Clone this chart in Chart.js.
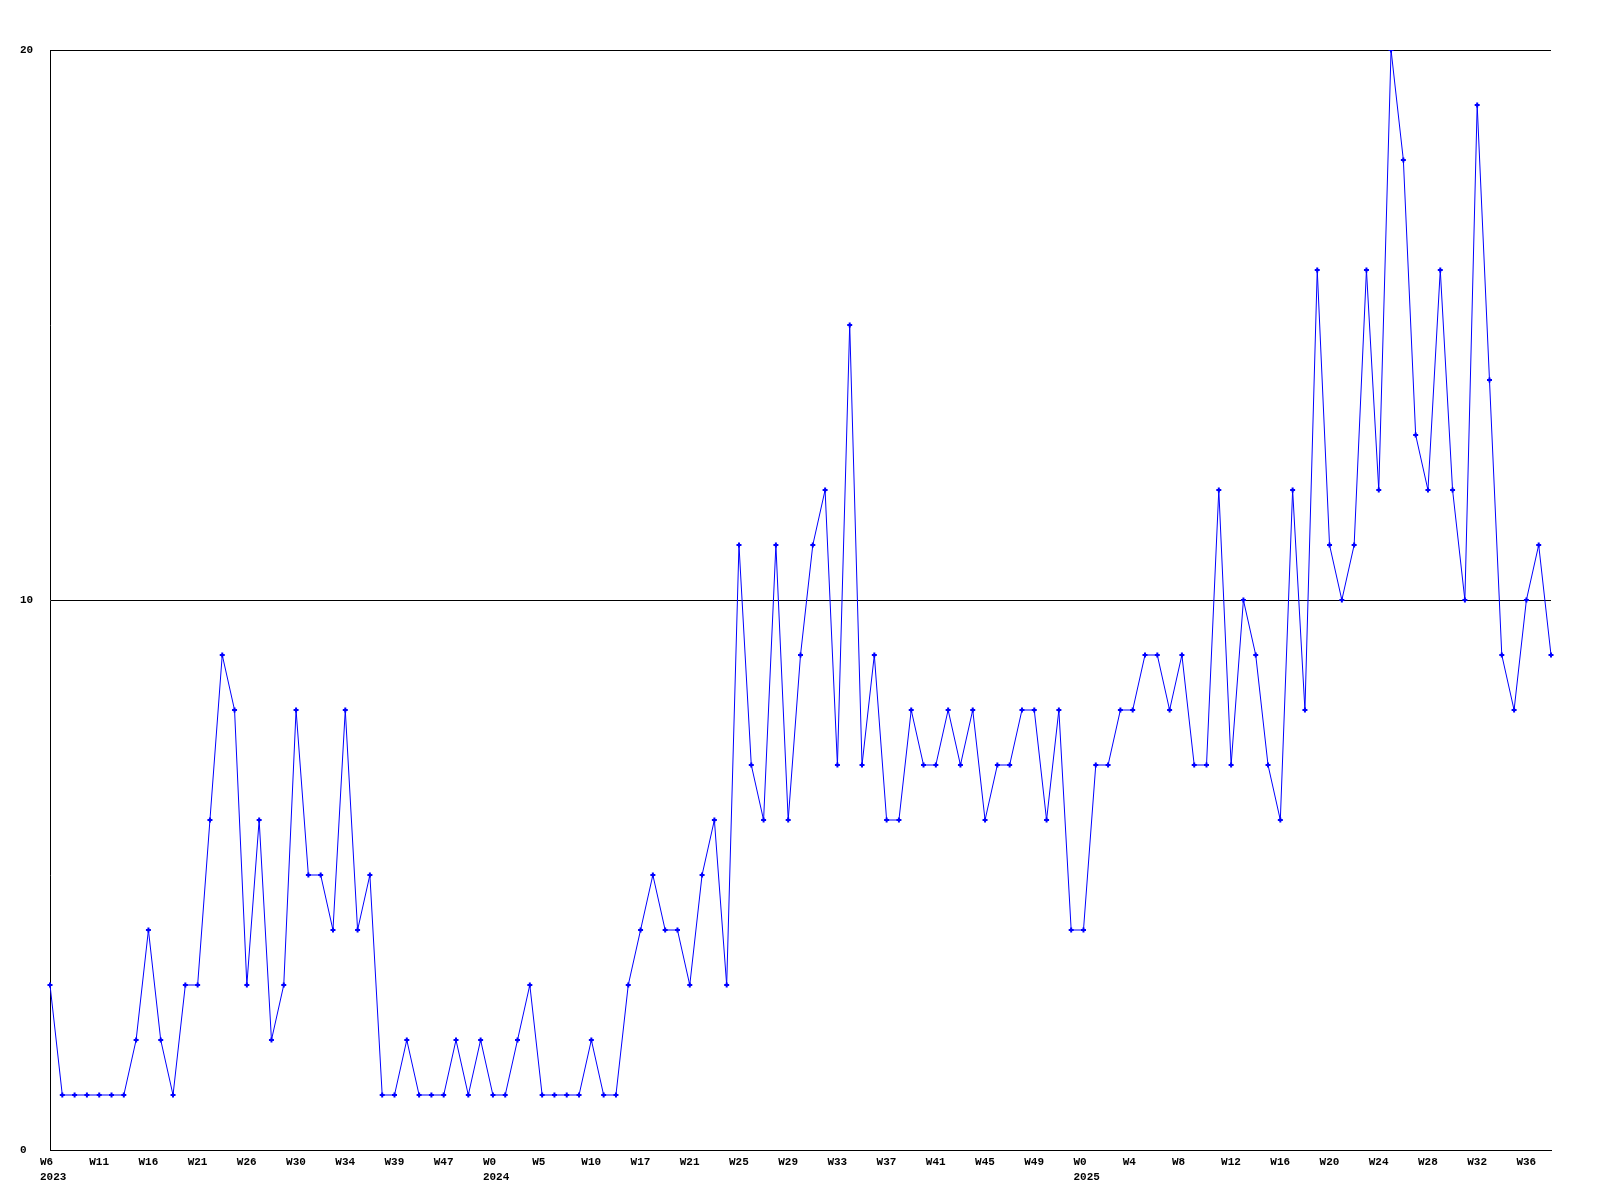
<!DOCTYPE html>
<html lang="en">
<head>
  <meta charset="UTF-8">
  <script src="https://cdn.jsdelivr.net/npm/chart.js"></script>
  <style>
    body {
      margin: 0;
      background: #fff;
    }
    canvas {
      display: block;
    }
  </style>
</head>
<body>
  <canvas id="weekChart" width="1600" height="1200"></canvas>

  <script>
    // weekly counts, one per week
    const weeklyCounts = [
      3, 1, 1, 1, 1, 1, 1, 2, 4, 2, 1, 3, 3, 6, 9, 8, 3, 6, 2, 3,
      8, 5, 5, 4, 8, 4, 5, 1, 1, 2, 1, 1, 1, 2, 1, 2, 1, 1, 2, 3,
      1, 1, 1, 1, 2, 1, 1, 3, 4, 5, 4, 4, 3, 5, 6, 3, 11, 7, 6, 11,
      6, 9, 11, 12, 7, 15, 7, 9, 6, 6, 8, 7, 7, 8, 7, 8, 6, 7, 7, 8,
      8, 6, 8, 4, 4, 7, 7, 8, 8, 9, 9, 8, 9, 7, 7, 12, 7, 10, 9, 7,
      6, 12, 8, 16, 11, 10, 11, 16, 12, 20, 18, 13, 12, 16, 12, 10, 19, 14, 9, 8,
      10, 11, 9
    ];

    // a label is shown on every 4th week
    const tickEvery = 4;
    const weekTicks = [
      'W6', 'W11', 'W16', 'W21', 'W26', 'W30', 'W34', 'W39', 'W47', 'W0',
      'W5', 'W10', 'W17', 'W21', 'W25', 'W29', 'W33', 'W37', 'W41', 'W45',
      'W49', 'W0', 'W4', 'W8', 'W12', 'W16', 'W20', 'W24', 'W28', 'W32', 'W36'
    ];
    // second line under some week ticks (index into weekTicks)
    const yearTickPos = [0, 9, 21];
    const yearNames = ['2023', '2024', '2025'];

    const yMin = 0;
    const yMax = 20;
    const yStep = 10;

    const FONT = { family: "'Liberation Mono', 'DejaVu Sans Mono', monospace", size: 11, weight: 'bold' };

    // draws the week/year labels a little left of their week, like the original
    const weekLabelPlugin = {
      id: 'weekLabels',
      afterDraw(chart) {
        const ctx = chart.ctx;
        const xs = chart.scales.x;
        const top = chart.chartArea.bottom;
        ctx.save();
        ctx.font = `${FONT.weight} ${FONT.size}px ${FONT.family}`;
        ctx.fillStyle = '#000';
        ctx.textAlign = 'left';
        ctx.textBaseline = 'middle';
        weekTicks.forEach((lbl, k) => {
          const x = xs.getPixelForValue(k * tickEvery) - 10;
          ctx.fillText(lbl, x, top + 12);
          const yi = yearTickPos.indexOf(k);
          if (yi >= 0) ctx.fillText(yearNames[yi], x, top + 27);
        });
        ctx.restore();
      }
    };

    new Chart(document.getElementById('weekChart'), {
      type: 'line',
      data: {
        labels: weeklyCounts.map((_, i) => i),
        datasets: [{
          data: weeklyCounts,
          borderColor: '#0000ff',
          backgroundColor: '#0000ff',
          borderWidth: 1,
          tension: 0,
          pointStyle: 'cross',
          pointRadius: 2.5,
          pointBorderWidth: 2,
          pointHoverRadius: 2.5
        }]
      },
      options: {
        responsive: false,
        animation: false,
        events: [],
        layout: {
          padding: { left: 20, top: 50, right: 49, bottom: 0 }
        },
        plugins: {
          legend: { display: false },
          tooltip: { enabled: false }
        },
        scales: {
          x: {
            type: 'category',
            offset: false,
            grid: { display: false },
            border: { display: true, color: '#000', width: 1 },
            ticks: { display: false },
            afterFit(scale) { scale.height = 50; }
          },
          y: {
            min: yMin,
            max: yMax,
            ticks: {
              stepSize: yStep,
              color: '#000',
              font: FONT,
              crossAlign: 'far',
              padding: 0
            },
            grid: { color: '#000', lineWidth: 1, drawTicks: false },
            border: { display: true, color: '#000', width: 1 },
            afterFit(scale) { scale.width = 30; }
          }
        }
      },
      plugins: [weekLabelPlugin]
    });
  </script>
</body>
</html>
